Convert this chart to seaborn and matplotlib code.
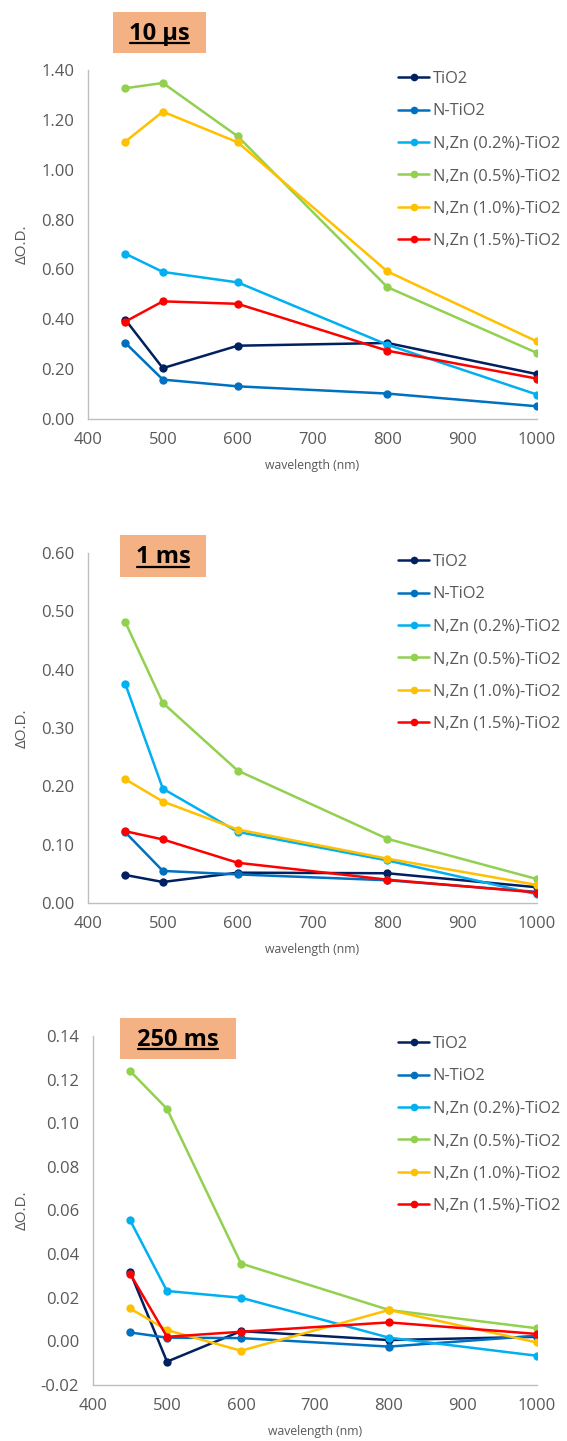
import numpy as np
import pandas as pd
import matplotlib
matplotlib.use("Agg")
import matplotlib.pyplot as plt
from matplotlib.lines import Line2D
from matplotlib.patches import Rectangle
from matplotlib.ticker import MultipleLocator, FormatStrFormatter
import seaborn as sns

# ---------------- data ----------------
wavelength = [450, 500, 600, 800, 1000]
samples = ["TiO2", "N-TiO2", "N,Zn (0.2%)-TiO2", "N,Zn (0.5%)-TiO2",
           "N,Zn (1.0%)-TiO2", "N,Zn (1.5%)-TiO2"]
colors = ["#002060", "#0070C0", "#00B0F0", "#92D050", "#FFC000", "#FF0000"]

# 10 us
us10_tio2 = [0.398, 0.204, 0.294, 0.305, 0.180]
us10_ntio2 = [0.305, 0.158, 0.131, 0.102, 0.051]
us10_zn02 = [0.663, 0.590, 0.548, 0.298, 0.098]
us10_zn05 = [1.327, 1.348, 1.134, 0.529, 0.265]
us10_zn10 = [1.113, 1.233, 1.110, 0.592, 0.311]
us10_zn15 = [0.391, 0.472, 0.462, 0.274, 0.162]

# 1 ms
ms1_tio2 = [0.048, 0.036, 0.052, 0.051, 0.027]
ms1_ntio2 = [0.121, 0.055, 0.049, 0.039, 0.019]
ms1_zn02 = [0.375, 0.196, 0.122, 0.073, 0.015]
ms1_zn05 = [0.481, 0.343, 0.227, 0.110, 0.041]
ms1_zn10 = [0.212, 0.174, 0.126, 0.076, 0.031]
ms1_zn15 = [0.123, 0.109, 0.069, 0.040, 0.018]

# 250 ms
ms250_tio2 = [0.0319, -0.0093, 0.0047, 0.0006, 0.0021]
ms250_ntio2 = [0.0041, 0.0017, 0.0015, -0.0024, 0.0026]
ms250_zn02 = [0.0556, 0.0231, 0.0200, 0.0017, -0.0066]
ms250_zn05 = [0.1240, 0.1066, 0.0357, 0.0144, 0.0060]
ms250_zn10 = [0.0151, 0.0052, -0.0043, 0.0144, -0.0005]
ms250_zn15 = [0.0311, 0.0021, 0.0044, 0.0087, 0.0034]

titles = ["10 µs", "1 ms", "250 ms"]
panel_series = [
    [us10_tio2, us10_ntio2, us10_zn02, us10_zn05, us10_zn10, us10_zn15],
    [ms1_tio2, ms1_ntio2, ms1_zn02, ms1_zn05, ms1_zn10, ms1_zn15],
    [ms250_tio2, ms250_ntio2, ms250_zn02, ms250_zn05, ms250_zn10, ms250_zn15],
]
y_ranges = [(0.0, 1.40, 0.20, 0.04), (0.0, 0.60, 0.10, 0.02), (-0.02, 0.14, 0.02, 0.004)]

# ---------------- style ----------------
sns.set_style("white")
plt.rcParams["font.family"] = ["Open Sans", "DejaVu Sans"]

W, H = 567, 1441
fig = plt.figure(figsize=(W / 100, H / 100), dpi=100)

# axes boxes in pixels: left, right, top, bottom
boxes = [(88, 537, 70, 419), (88, 537, 553, 903), (93, 537, 1036, 1385)]
# title boxes in pixels: x0, x1, y0, y1
tboxes = [(113, 206, 12, 53), (120, 206, 535, 577), (120, 236, 1018, 1059)]
legend_top = [71, 554, 1036]

grey = "#595959"
spine_c = "#BFBFBF"

def fx(px):
    return px / W

def fy(py):
    return 1 - py / H

texts = []
for i, series in enumerate(panel_series):
    l, r, t, b = boxes[i]
    ax = fig.add_axes([fx(l), fy(b), fx(r) - fx(l), fy(t) - fy(b)])
    rows = []
    for s, vals in zip(samples, series):
        for w, v in zip(wavelength, vals):
            rows.append({"wavelength": w, "od": v, "sample": s})
    df = pd.DataFrame(rows)
    sns.lineplot(data=df, x="wavelength", y="od", hue="sample", hue_order=samples,
                 palette=colors, marker="o", markersize=6, markeredgewidth=0,
                 linewidth=1.8, ax=ax, legend=False)
    y0, y1, maj, mnr = y_ranges[i]
    ax.set_xlim(400, 1000)
    ax.set_ylim(y0, y1)
    ax.xaxis.set_major_locator(MultipleLocator(100))
    ax.xaxis.set_minor_locator(MultipleLocator(20))
    ax.yaxis.set_major_locator(MultipleLocator(maj))
    ax.yaxis.set_minor_locator(MultipleLocator(mnr))
    ax.yaxis.set_major_formatter(FormatStrFormatter("%.2f"))
    for sp in ["top", "right"]:
        ax.spines[sp].set_visible(False)
    for sp in ["left", "bottom"]:
        ax.spines[sp].set_color(spine_c)
        ax.spines[sp].set_linewidth(1.0)
    ax.tick_params(axis="both", which="both", direction="out", color=spine_c,
                   labelcolor=grey, labelsize=12)
    ax.tick_params(axis="both", which="major", length=5, width=1.0)
    ax.tick_params(axis="both", which="minor", length=4, width=0.8)
    ax.tick_params(axis="x", which="major", pad=4)
    ax.tick_params(axis="y", which="major", pad=5)
    ax.set_xlabel("wavelength (nm)", color=grey, fontsize=8.8, labelpad=8)
    ax.set_ylabel("ΔO.D.", color=grey, fontsize=11)
    ax.yaxis.set_label_coords((30 - l) / (r - l), 0.5)
    # legend
    handles = [Line2D([], [], color=c, marker="o", markersize=5.5, markeredgewidth=0,
                      linewidth=1.8) for c in colors]
    fig.legend(handles, samples, loc="upper left",
               bbox_to_anchor=(fx(398), fy(legend_top[i])), frameon=False,
               fontsize=11.8, labelcolor=grey, handlelength=1.9, handletextpad=0.22,
               labelspacing=1.0, borderpad=0, borderaxespad=0)
    # title box
    x0, x1, ty0, ty1 = tboxes[i]
    fig.patches.append(Rectangle((fx(x0), fy(ty1)), fx(x1) - fx(x0), fy(ty0) - fy(ty1),
                                 transform=fig.transFigure, facecolor="#F4B183",
                                 edgecolor="none", zorder=5))
    txt = fig.text(fx((x0 + x1) / 2), fy((ty0 + ty1) / 2 + 1), titles[i], ha="center",
                   va="center", fontsize=17, fontweight="bold", color="black", zorder=6)
    texts.append(txt)

fig.canvas.draw()
renderer = fig.canvas.get_renderer()
inv = fig.transFigure.inverted()
for txt in texts:
    bb = txt.get_window_extent(renderer)
    (ax0, ay0), (ax1, ay1) = inv.transform([(bb.x0, bb.y0), (bb.x1, bb.y1)])
    yl = ay0 + (ay1 - ay0) * 0.10
    fig.lines.append(Line2D([ax0 + 0.002, ax1 - 0.002], [yl, yl], transform=fig.transFigure,
                            color="black", linewidth=1.6, zorder=7))

fig.savefig("out.png", dpi=100)
